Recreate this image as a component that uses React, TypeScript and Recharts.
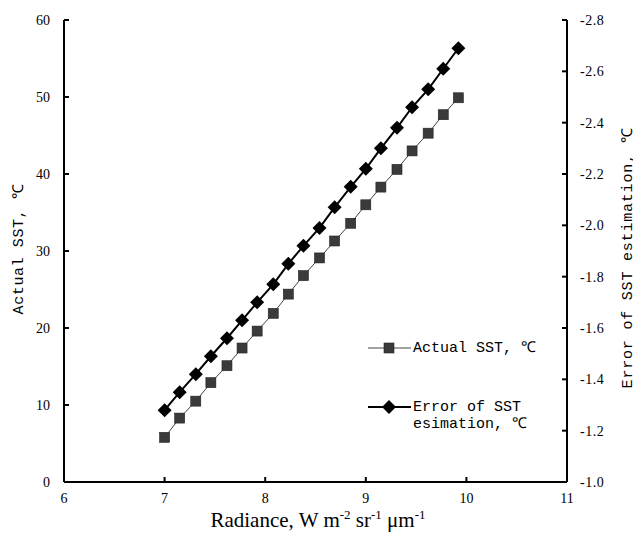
import React from "react";
import { LineChart, Line, XAxis, YAxis } from "recharts";

const radiance = [7.0, 7.15, 7.31, 7.46, 7.62, 7.77, 7.92, 8.08, 8.23, 8.38, 8.54, 8.69, 8.85, 9.0, 9.15, 9.31, 9.46, 9.62, 9.77, 9.92];
const actualSST = [5.8, 8.3, 10.5, 12.9, 15.1, 17.4, 19.6, 21.9, 24.4, 26.8, 29.1, 31.3, 33.6, 36.0, 38.3, 40.6, 43.0, 45.3, 47.7, 49.9];
const sstError = [-1.28, -1.35, -1.42, -1.49, -1.56, -1.63, -1.7, -1.77, -1.85, -1.92, -1.99, -2.07, -2.15, -2.22, -2.3, -2.38, -2.46, -2.53, -2.61, -2.69];

const xTicks = [6, 7, 8, 9, 10, 11];
const leftTicks = [0, 10, 20, 30, 40, 50, 60];
const rightTicks = [-2.8, -2.6, -2.4, -2.2, -2.0, -1.8, -1.6, -1.4, -1.2, -1.0];

const seriesActual = "Actual SST, \u2103";
const seriesErrorLines = ["Error of SST", "esimation, \u2103"];
const leftTitle = "Actual SST, \u2103";
const rightTitle = "Error of SST estimation, \u2103";

const data = radiance.map((x, i) => ({ x, actual: actualSST[i], error: sstError[i] }));

const W = 625;
const H = 531;
const serif = "'Liberation Serif', 'Times New Roman', serif";
const monoFont = "'Liberation Mono', 'DejaVu Sans Mono', monospace";
const TICK_LEN = 5;
const X_MARGIN = 10;
const L_MARGIN = 14;
const R_MARGIN = 13;

const BottomTick = (props: any) => {
  const { x, y, payload } = props;
  const axisY = y - X_MARGIN;
  return (
    <g>
      <line x1={x} y1={axisY} x2={x} y2={axisY - TICK_LEN} stroke="#000" strokeWidth={2} />
      <text x={x} y={y} dy="0.8em" textAnchor="middle" fontFamily={serif} fontSize={14} fill="#000">
        {payload.value}
      </text>
    </g>
  );
};

const LeftTick = (props: any) => {
  const { x, y, payload } = props;
  const axisX = x + L_MARGIN;
  return (
    <g>
      <line x1={axisX} y1={y} x2={axisX + TICK_LEN} y2={y} stroke="#000" strokeWidth={2} />
      <text x={x} y={y} dy="0.35em" textAnchor="end" fontFamily={serif} fontSize={14} fill="#000">
        {payload.value}
      </text>
    </g>
  );
};

const RightTick = (props: any) => {
  const { x, y, payload } = props;
  const axisX = x - R_MARGIN;
  return (
    <g>
      <line x1={axisX} y1={y} x2={axisX - TICK_LEN} y2={y} stroke="#000" strokeWidth={2} />
      <text x={x} y={y} dy="0.35em" textAnchor="start" fontFamily={serif} fontSize={14} letterSpacing={0.5} fill="#000">
        {Number(payload.value).toFixed(1)}
      </text>
    </g>
  );
};

const SquareDot = (props: any) => {
  const { cx, cy, index } = props;
  if (cx == null || cy == null) return <g key={`s${index}`} />;
  return <rect key={`s${index}`} x={cx - 5} y={cy - 5} width={10} height={10} fill="#3a3a3a" stroke="#222" strokeWidth={0.6} />;
};

const DiamondDot = (props: any) => {
  const { cx, cy, index } = props;
  if (cx == null || cy == null) return <g key={`d${index}`} />;
  return <polygon key={`d${index}`} points={`${cx},${cy - 7} ${cx + 7},${cy} ${cx},${cy + 7} ${cx - 7},${cy}`} fill="#000" />;
};

export default function App() {
  return (
    <div style={{ position: "relative", width: W, height: H }}>
      <LineChart width={W} height={H} data={data} margin={{ top: 12, right: 6, bottom: 0, left: 0 }}>
        <XAxis
          dataKey="x"
          type="number"
          domain={[6, 11]}
          ticks={xTicks}
          allowDataOverflow
          height={57}
          tickSize={0}
          tickMargin={X_MARGIN}
          tick={BottomTick}
          tickLine={false}
          axisLine={{ stroke: "#000", strokeWidth: 2 }}
        />
        <XAxis
          xAxisId="top"
          orientation="top"
          dataKey="x"
          type="number"
          domain={[6, 11]}
          height={0}
          tick={false}
          tickLine={false}
          axisLine={{ stroke: "#000", strokeWidth: 2 }}
        />
        <YAxis
          yAxisId="left"
          type="number"
          domain={[0, 60]}
          ticks={leftTicks}
          width={56}
          tickSize={0}
          tickMargin={L_MARGIN}
          tick={LeftTick}
          tickLine={false}
          axisLine={{ stroke: "#000", strokeWidth: 2 }}
        />
        <YAxis
          yAxisId="right"
          orientation="right"
          type="number"
          domain={[-2.8, -1.0]}
          reversed
          ticks={rightTicks}
          width={60}
          tickSize={0}
          tickMargin={R_MARGIN}
          tick={RightTick}
          tickLine={false}
          axisLine={{ stroke: "#000", strokeWidth: 2 }}
        />
        <Line
          yAxisId="left"
          dataKey="actual"
          name={seriesActual}
          stroke="#444"
          strokeWidth={1}
          dot={SquareDot}
          activeDot={false}
          isAnimationActive={false}
        />
        <Line
          yAxisId="right"
          dataKey="error"
          name={seriesErrorLines.join(" ")}
          stroke="#000"
          strokeWidth={2}
          dot={DiamondDot}
          activeDot={false}
          isAnimationActive={false}
        />
      </LineChart>
      <svg
        width={W}
        height={H}
        style={{ position: "absolute", left: 0, top: 0, overflow: "visible", pointerEvents: "none" }}
      >
        <text
          transform="translate(11,241) rotate(-90)"
          textAnchor="middle"
          dominantBaseline="central"
          fontFamily={monoFont}
          fontSize={15}
          letterSpacing={0.6}
          fill="#000"
        >
          {leftTitle}
        </text>
        <text
          transform="translate(620,250) rotate(-90)"
          textAnchor="middle"
          dominantBaseline="central"
          fontFamily={monoFont}
          fontSize={15}
          letterSpacing={0.8}
          fill="#000"
        >
          {rightTitle}
        </text>
        <text x={310} y={519} textAnchor="middle" fontFamily={serif} fontSize={21} fill="#000">
          <tspan>Radiance, W m</tspan>
          <tspan dy={-8} fontSize={13}>-2</tspan>
          <tspan dy={8}> sr</tspan>
          <tspan dy={-8} fontSize={13}>-1</tspan>
          <tspan dy={8}> {"\u03bc"}m</tspan>
          <tspan dy={-8} fontSize={13}>-1</tspan>
        </text>
        <g>
          <line x1={360} y1={340} x2={403} y2={340} stroke="#444" strokeWidth={1} />
          <rect x={376} y={335} width={10} height={10} fill="#3a3a3a" stroke="#222" strokeWidth={0.6} />
          <text x={405} y={340} dominantBaseline="central" fontFamily={monoFont} fontSize={15} fill="#000">
            {seriesActual}
          </text>
          <line x1={360} y1={399} x2={403} y2={399} stroke="#000" strokeWidth={2} />
          <polygon points="381,392 388,399 381,406 374,399" fill="#000" />
          <text x={405} y={399} dominantBaseline="central" fontFamily={monoFont} fontSize={15} fill="#000">
            {seriesErrorLines[0]}
          </text>
          <text x={405} y={416} dominantBaseline="central" fontFamily={monoFont} fontSize={15} fill="#000">
            {seriesErrorLines[1]}
          </text>
        </g>
      </svg>
    </div>
  );
}
